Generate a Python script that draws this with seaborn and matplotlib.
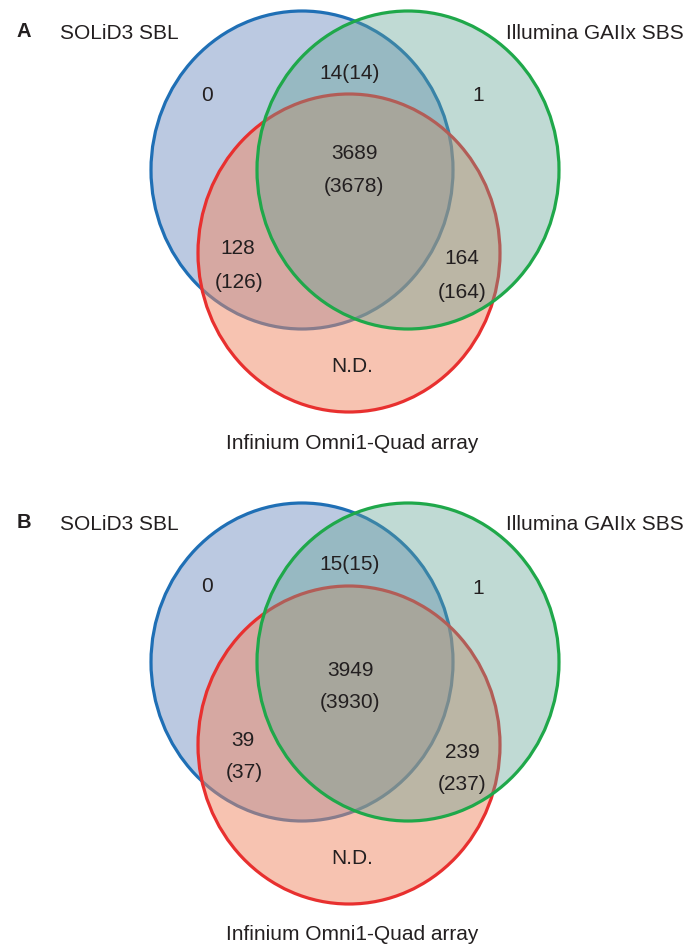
import matplotlib.pyplot as plt
import matplotlib.patches as mpatches
import seaborn as sns

# data
panel_names = ["A", "B"]
set_names = ["SOLiD3 SBL", "Illumina GAIIx SBS", "Infinium Omni1-Quad array"]
solid_only = [0, 0]
illumina_only = [1, 1]
solid_illumina = [14, 15]
solid_illumina_concord = [14, 15]
all_three = [3689, 3949]
all_three_concord = [3678, 3930]
solid_infinium = [128, 39]
solid_infinium_concord = [126, 37]
illumina_infinium = [164, 239]
illumina_infinium_concord = [164, 237]
infinium_only = ["N.D.", "N.D."]

sns.set_theme(style="white")
plt.rcParams['font.family'] = ['Liberation Sans', 'DejaVu Sans']

txt_color = '#231f20'
fs = 15

fig = plt.figure(figsize=(6.9, 9.48), dpi=100)
ax = fig.add_axes([0, 0, 1, 1])
ax.set_xlim(0, 690)
ax.set_ylim(948, 0)
ax.set_aspect('equal')
ax.axis('off')

# ellipse layout (centre), fill, fill alpha, edge; drawn blue, red, green
circles = [
    ((302, 170), '#7995c5', 0.5, '#1f6fb5'),
    ((349, 253), '#f18965', 0.5, '#e8302f'),
    ((408, 170), '#62a394', 0.4, '#1fa84a'),
]

# text layout per panel
layouts = [
    dict(s_only=(207, 95), i_only=(478, 95), si=(350, 73), all1=(354, 153), all2=(354, 186),
         sf1=(238, 248), sf2=(239, 282), if1=(462, 258), if2=(462, 292), nd=(352, 367)),
    dict(s_only=(207, 95), i_only=(478, 96), si=(350, 72), all1=(350, 178), all2=(350, 211),
         sf1=(243, 248), sf2=(244, 281), if1=(462, 260), if2=(462, 293), nd=(352, 366)),
]
offsets = [0, 492]

for k, name in enumerate(panel_names):
    oy = offsets[k]
    for (cx, cy), fc, a, ec in circles:
        ax.add_patch(mpatches.Ellipse((cx, cy + oy), 302, 318, facecolor=fc, alpha=a,
                                      edgecolor='none', zorder=1))
        ax.add_patch(mpatches.Ellipse((cx, cy + oy), 302, 318, facecolor='none',
                                      edgecolor=ec, lw=2.3, zorder=1))

    lay = layouts[k]
    kw = dict(ha='center', va='center', fontsize=fs, color=txt_color, zorder=3)
    ax.text(24, 31 + oy, name, ha='center', va='center', fontsize=14.5, fontweight='bold',
            color=txt_color)
    ax.text(60, 33 + oy, set_names[0], ha='left', va='center', fontsize=fs, color=txt_color)
    ax.text(684, 33 + oy, set_names[1], ha='right', va='center', fontsize=fs, color=txt_color)
    ax.text(352, 443 + oy, set_names[2], **kw)

    ax.text(lay['s_only'][0], lay['s_only'][1] + oy, str(solid_only[k]), **kw)
    ax.text(lay['i_only'][0], lay['i_only'][1] + oy, str(illumina_only[k]), **kw)
    ax.text(lay['si'][0], lay['si'][1] + oy, f"{solid_illumina[k]}({solid_illumina_concord[k]})", **kw)
    ax.text(lay['all1'][0], lay['all1'][1] + oy, str(all_three[k]), **kw)
    ax.text(lay['all2'][0], lay['all2'][1] + oy, f"({all_three_concord[k]})", **kw)
    ax.text(lay['sf1'][0], lay['sf1'][1] + oy, str(solid_infinium[k]), **kw)
    ax.text(lay['sf2'][0], lay['sf2'][1] + oy, f"({solid_infinium_concord[k]})", **kw)
    ax.text(lay['if1'][0], lay['if1'][1] + oy, str(illumina_infinium[k]), **kw)
    ax.text(lay['if2'][0], lay['if2'][1] + oy, f"({illumina_infinium_concord[k]})", **kw)
    ax.text(lay['nd'][0], lay['nd'][1] + oy, infinium_only[k], **kw)

fig.savefig('out.png', dpi=100, facecolor='white')
plt.close(fig)
